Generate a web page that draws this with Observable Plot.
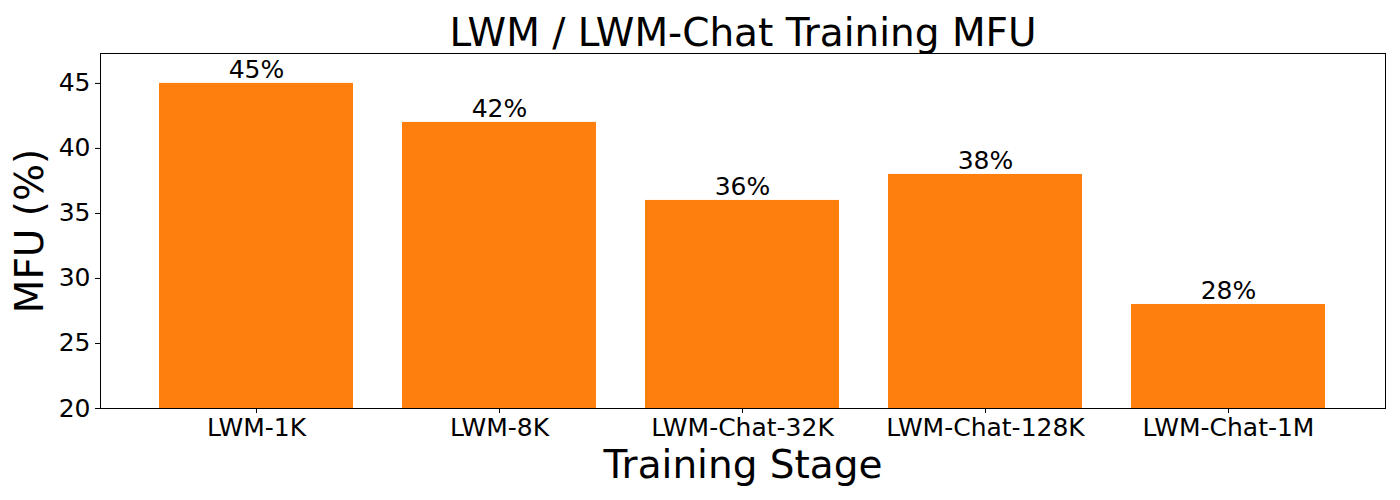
<!DOCTYPE html>
<html>
<head>
<meta charset="utf-8">
<script src="https://cdn.jsdelivr.net/npm/d3@7"></script>
<script src="https://cdn.jsdelivr.net/npm/@observablehq/plot@0.6"></script>
<style>
body { margin: 0; background: white; }
</style>
</head>
<body>
<div id="chart"></div>
<script>
const stages = ["LWM-1K", "LWM-8K", "LWM-Chat-32K", "LWM-Chat-128K", "LWM-Chat-1M"];
const mfu = [45, 42, 36, 38, 28];
const yTicks = [20, 25, 30, 35, 40, 45];
const title = "LWM / LWM-Chat Training MFU";
const xLabel = "Training Stage";
const yLabel = "MFU (%)";

const data = stages.map((s, i) => ({stage: s, mfu: mfu[i]}));

const chart = Plot.plot({
  width: 1400,
  height: 500,
  marginLeft: 100,
  marginRight: 15,
  marginTop: 53,
  marginBottom: 92,
  style: {fontFamily: "DejaVu Sans", fontSize: "25px", color: "black", background: "white", overflow: "visible"},
  x: {domain: stages, paddingInner: 0.2, paddingOuter: 0.24, label: null},
  y: {domain: [20, 47.3], label: null},
  marks: [
    Plot.barY(data, {x: "stage", y1: 20, y2: "mfu", fill: "#ff7f0e"}),
    Plot.text(data, {x: "stage", y: "mfu", text: d => d.mfu + "%", lineAnchor: "bottom", dy: -5, fontSize: 25, fill: "black"}),
    Plot.frame({stroke: "black", strokeWidth: 1}),
    Plot.axisX({tickSize: 5, tickPadding: 5, fontSize: 25, label: null}),
    Plot.axisY({ticks: yTicks, tickSize: 5, tickPadding: 5, fontSize: 25, label: null}),
    Plot.text([title], {frameAnchor: "top", dy: -20, lineAnchor: "middle", fontSize: 39, fill: "black"}),
    Plot.text([xLabel], {frameAnchor: "bottom", dy: 57, lineAnchor: "middle", fontSize: 39, fill: "black"}),
    Plot.text([yLabel], {frameAnchor: "left", dx: -70, rotate: -90, textAnchor: "middle", lineAnchor: "middle", fontSize: 39, fill: "black"})
  ]
});
document.getElementById("chart").appendChild(chart);
</script>
</body>
</html>
